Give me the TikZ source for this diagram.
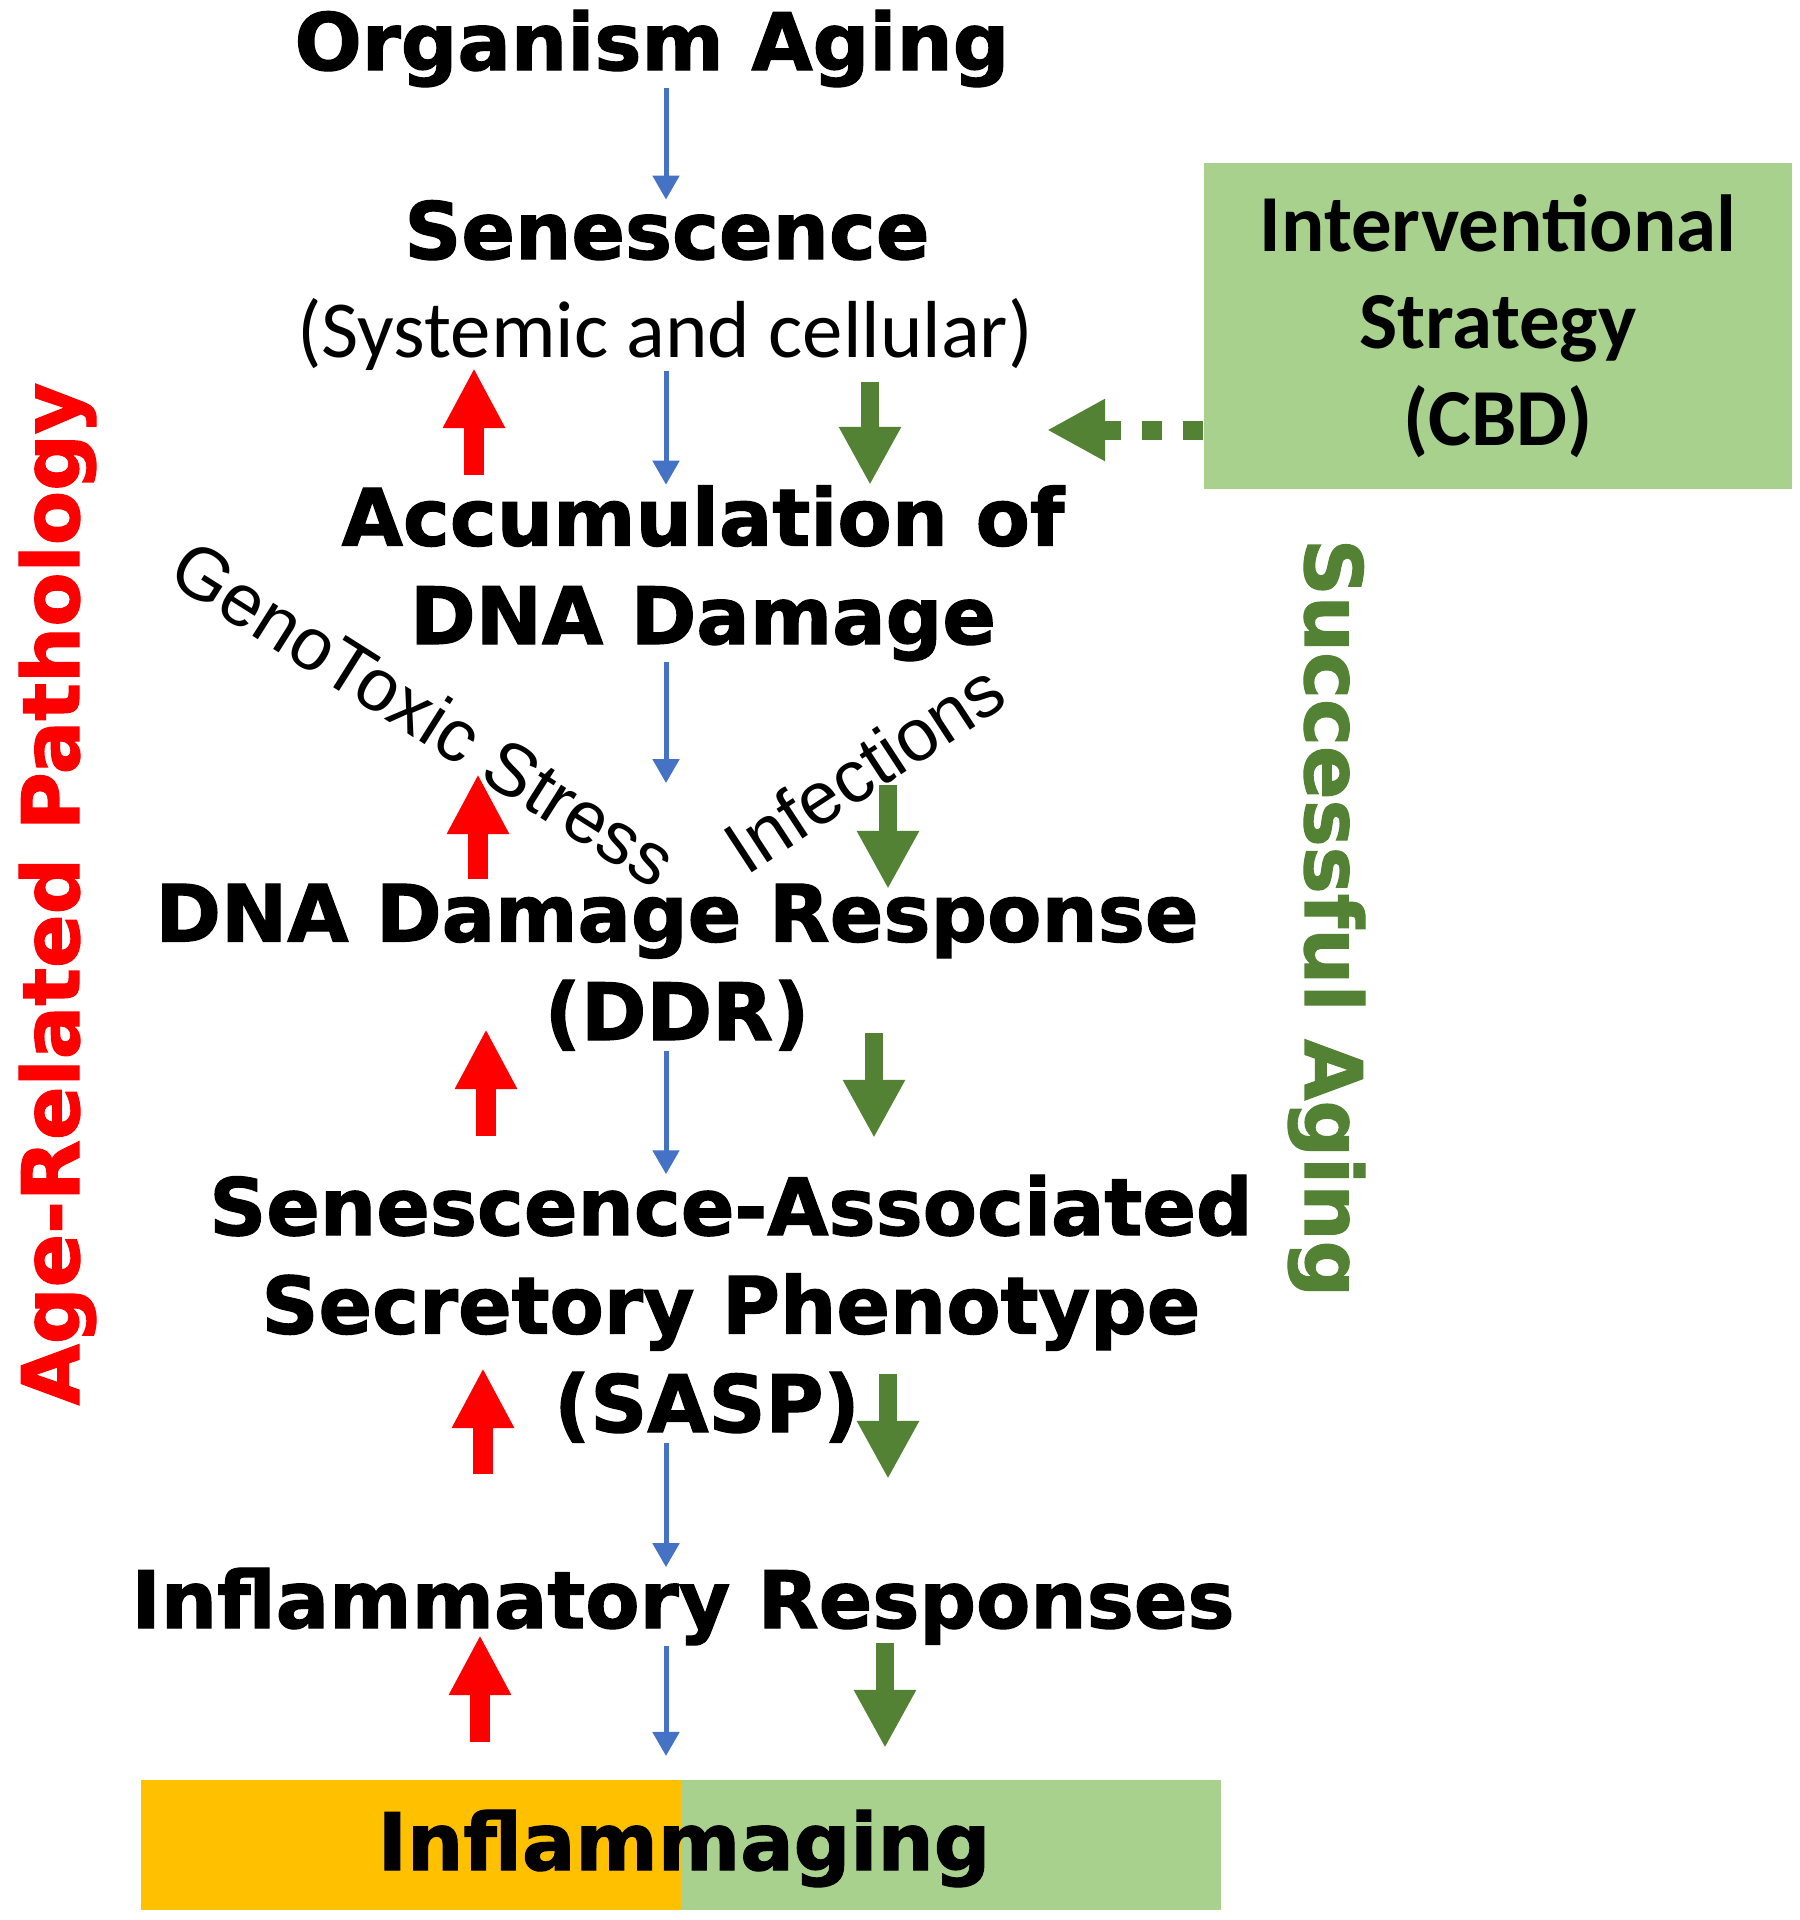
\documentclass[tikz,border=0pt]{standalone}
\usepackage{fontspec}
\setmainfont{Liberation Sans}
\newfontfamily\heavyfont{DejaVu Sans}[UprightFont={* Bold}, FakeBold=1.5]
\newfontfamily\calfont{Carlito}
\usetikzlibrary{arrows.meta}

\definecolor{flowblue}{HTML}{4472C4}
\definecolor{pathred}{HTML}{FF0000}
\definecolor{goodgreen}{HTML}{548235}
\definecolor{boxgreen}{HTML}{A9D18E}
\definecolor{boxorange}{HTML}{FFC000}

\begin{document}
\begin{tikzpicture}[x=0.01cm, y=-0.01cm,
    heavy/.style={font=\heavyfont\fontsize{22.5}{28}\selectfont, inner sep=0pt, align=center},
    flow/.style={draw=flowblue, line width=0.05cm, -{Triangle[width=0.26cm,length=0.24cm]}},
    worse/.style={draw=pathred, line width=0.2cm, -{Triangle[width=0.58cm,length=0.6cm]}},
    better/.style={draw=goodgreen, line width=0.18cm, -{Triangle[width=0.58cm,length=0.58cm]}}]
    \useasboundingbox (0,0) rectangle (1800,1920);

    % main chain (base = last line)
    \node[heavy, anchor=base] (aging) at (652,70) {Organism Aging};
    \node[heavy, anchor=base] (senes) at (667,259) {Senescence};
    \node[font=\calfont\fontsize{23}{28}\selectfont, inner sep=0pt, anchor=base] (systemic) at (665,357) {(Systemic and cellular)};
    \node[heavy, anchor=base] (accum) at (703,644) {Accumulation of\\DNA Damage};
    \node[heavy, anchor=base] (ddr) at (677,1040) {DNA Damage Response\\(DDR)};
    \node[heavy, anchor=base] (sasp) at (731,1432) {Senescence-Associated\\Secretory Phenotype\\(SASP)\hspace*{0.48cm}};
    \node[heavy, anchor=base] (inflresp) at (683,1628) {Inflammatory Responses};

    \fill[boxorange] (141,1780) rectangle (682,1910);
    \fill[boxgreen] (682,1780) rectangle (1221,1910);
    \node[heavy, anchor=base] (inflamm) at (684,1870) {Inflammaging};
    \coordinate (boxtop) at (682,1780);

    % side labels
    \node[heavy, text=pathred, rotate=90, anchor=base] (pathology) at (79,894) {Age-Related Pathology};
    \node[heavy, text=goodgreen, rotate=-90, anchor=base] (success) at (1305,918) {Successful Aging};
    \node[font=\fontsize{21}{25}\selectfont, inner sep=0pt, rotate=-32.3] (genotox) at (424,713) {GenoToxic Stress};
    \node[font=\fontsize{21}{25}\selectfont, inner sep=0pt, rotate=33.2] (infect) at (864,768) {Infections};

    % intervention
    \node[fill=boxgreen, minimum width=5.88cm, minimum height=3.26cm, inner sep=0pt, align=center,
        font=\calfont\bfseries\fontsize{23}{27.5}\selectfont] (cbd) at (1498,326) {Interventional\\Strategy\\(CBD)};
    \coordinate (cbdtip) at (1047,430);
    \draw[goodgreen, line width=0.19cm, dash pattern=on 0.2cm off 0.21cm,
        -{Triangle[width=0.58cm,length=0.58cm]}] (cbd.west |- cbdtip) -- (cbdtip);

    % blue flow
    \coordinate (flowx) at (666,0);
    \draw[flow] (aging.south -| flowx) -- (senes.north -| flowx);
    \draw[flow] (systemic.south -| flowx) -- (accum.north -| flowx);
    \draw[flow, shorten >=1cm] (accum.south -| flowx) -- (ddr.north -| flowx);
    \draw[flow] (ddr.south -| flowx) -- (sasp.north -| flowx);
    \draw[flow] (sasp.south -| flowx) -- (inflresp.north -| flowx);
    \draw[flow, shorten >=0.24cm] (inflresp.south -| flowx) -- (boxtop -| flowx);

    % red and green marks
    \draw[worse] (474,475) -- (474,368);
    \draw[worse] (478,879) -- (478,774);
    \draw[worse] (486,1136) -- (486,1029);
    \draw[worse] (483,1474) -- (483,1368);
    \draw[worse] (480,1742) -- (480,1635);
    \draw[better] (870,382) -- (870,485);
    \draw[better] (888,785) -- (888,889);
    \draw[better] (874,1033) -- (874,1138);
    \draw[better] (888,1374) -- (888,1479);
    \draw[better] (885,1643) -- (885,1748);
\end{tikzpicture}
\end{document}
